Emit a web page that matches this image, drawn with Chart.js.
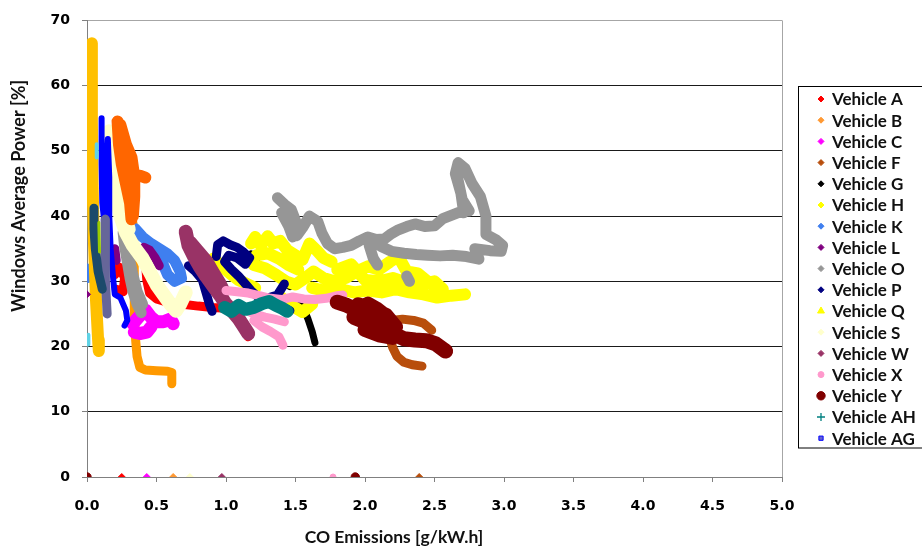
<!DOCTYPE html>
<html>
<head>
<meta charset="utf-8">
<script src="https://cdn.jsdelivr.net/npm/chart.js@4/dist/chart.umd.min.js"></script>
<style>
html,body{margin:0;padding:0;background:#fff;}
canvas{display:block;}
</style>
</head>
<body>
<canvas id="chart" width="922" height="552"></canvas>
<script>
// Windowed average power [%] against CO emissions [g/kW.h].
// Each trail is a list of [x, y] vertices; null starts a new stroke.
// Single readings drawn as plain markers are kept in separate lists.

const xTicks = [0, 0.5, 1, 1.5, 2, 2.5, 3, 3.5, 4, 4.5, 5];
const yTicks = [0, 10, 20, 30, 40, 50, 60, 70];

const vehA = [
  [0.20,31.0],[0.23,32.2],[0.27,30.6],[0.26,28.4],[0.21,28.8], null,
  [0.42,33.0],[0.43,30.2],[0.45,28.2],[0.50,27.3],[0.56,26.9],[0.63,26.6],[0.72,26.4],[0.80,26.2],[0.90,26.0],[0.97,25.9],[1.01,26.3], null,
  [1.15,22.3],[1.16,21.5]
];
const marksA = [[0.25,0]];

const vehBUpper = [
  [0.22,54.5],[0.23,51.0],[0.25,48.0],[0.28,45.0],[0.31,42.0],[0.32,39.5], null,
  [0.24,54.0],[0.28,51.0],[0.32,49.0],[0.34,46.0],[0.34,43.0],[0.33,40.0], null,
  [0.23,53.0],[0.26,50.0],[0.29,47.5],[0.31,45.0], null,
  [0.38,46.2],[0.42,45.9]
];
const vehBLower = [
  [0.33,39.0],[0.34,34.0],[0.34,29.0],[0.34,25.0],[0.35,21.0],[0.36,18.5],[0.38,16.8],[0.42,16.4],[0.50,16.3],[0.58,16.2],[0.61,16.0],[0.61,14.3]
];
const marksB = [[0.62,0]];

const vehC = [
  [0.33,23.5],[0.37,24.5],[0.42,25.6],[0.46,24.5],[0.50,23.8],[0.55,23.8],[0.60,24.2],[0.62,23.5], null,
  [0.34,22.2],[0.38,22.0],[0.43,22.2],[0.46,23.0]
];
const marksC = [[0.43,0]];

const vehF = [
  [2.01,22.8],[2.06,22.4],[2.12,23.3],[2.19,24.0],[2.27,24.2],[2.35,24.0],[2.42,23.6],[2.48,22.5], null,
  [2.18,21.2],[2.20,19.8],[2.23,18.5],[2.28,17.6],[2.34,17.2],[2.41,17.0]
];
const marksF = [[2.39,0]];

const vehG = [
  [1.52,27.3],[1.56,25.8],[1.59,24.2],[1.62,22.3],[1.64,20.6], null,
  [1.18,34.2],[1.22,33.4], null,
  [1.42,29.8],[1.46,29.2]
];
const vehH = [
  [0.91,33.5],[0.97,32.3],[1.03,31.2],[1.09,30.2],[1.15,29.6],[1.21,29.0], null,
  [1.18,35.8],[1.21,36.8],[1.25,35.5],[1.30,36.9],[1.34,35.8],[1.39,36.2],[1.44,34.8],[1.50,34.0],[1.55,33.3],[1.60,35.8],[1.65,34.8],[1.70,33.6],[1.76,33.0], null,
  [1.22,34.0],[1.30,34.3],[1.38,33.5],[1.45,32.5],[1.52,31.8], null,
  [1.20,32.5],[1.28,32.0],[1.36,31.0],[1.43,30.0],[1.50,29.5],[1.57,30.5],[1.63,31.5],[1.70,30.5],[1.78,30.0],[1.86,30.5],[1.94,31.5],[2.02,32.3],[2.10,31.8],[2.18,33.0],[2.24,33.8],[2.30,31.5],[2.38,31.2],[2.45,30.0],[2.52,29.0], null,
  [1.80,31.8],[1.90,32.6],[2.00,30.2],[2.10,30.0],[2.20,30.5],[2.30,29.8],[2.40,29.5],[2.50,30.0],[2.56,28.8], null,
  [1.40,27.5],[1.47,26.3],[1.55,25.3],[1.62,26.5], null,
  [1.62,29.0],[1.72,28.5],[1.82,28.8],[1.92,28.3],[2.02,28.6],[2.12,28.3],[2.22,28.8],[2.32,28.3],[2.42,28.0],[2.52,27.5],[2.62,27.8],[2.72,28.0]
];
const vehK = [
  [0.345,38.1],[0.40,36.8],[0.46,35.8],[0.52,35.0],[0.58,34.2],[0.63,33.2],[0.67,31.5],[0.68,30.5],[0.63,30.0],[0.58,31.0],[0.55,32.5],[0.52,34.0], null,
  [0.00,31.9],[0.01,30.6]
];
const vehL = [
  [0.37,34.3],[0.41,35.2],[0.45,34.8],[0.49,33.6],[0.52,32.4], null,
  [0.20,35.0],[0.21,33.2]
];
const marksL = [[0.00,28.0]];

const vehO = [
  [0.26,37.5],[0.27,35.5],[0.29,33.0],[0.31,30.5],[0.33,28.5],[0.36,26.5],[0.39,25.2], null,
  [0.28,36.5],[0.30,34.0],[0.33,31.0],[0.36,28.5],[0.40,26.5], null,
  [1.37,42.8],[1.42,41.8],[1.47,41.0],[1.50,39.3],[1.51,37.0],[1.55,38.2],[1.60,40.0],[1.66,39.2],[1.69,37.4],[1.73,35.8],[1.78,35.0],[1.84,35.2],[1.90,35.5],[1.96,36.2],[2.02,36.8],[2.08,36.4],[2.14,36.5],[2.19,37.3],[2.24,37.9],[2.30,38.4],[2.36,38.8],[2.43,38.4],[2.50,38.5],[2.56,39.6],[2.62,40.1],[2.68,40.6],[2.71,40.5],[2.69,43.5],[2.65,46.5],[2.67,48.2],[2.72,47.3],[2.77,45.0],[2.83,43.0],[2.87,40.0],[2.87,37.2],[2.94,36.4],[2.99,35.5],[2.98,34.6],[2.90,34.7],[2.79,35.0],[2.82,33.4],[2.73,33.8],[2.63,34.0],[2.54,33.9],[2.45,34.0],[2.37,34.1],[2.28,34.3],[2.19,34.6],[2.12,35.3],[2.05,36.2], null,
  [1.40,40.5],[1.45,38.5],[1.48,36.8], null,
  [2.03,35.5],[2.06,33.5],[2.09,32.5], null,
  [2.30,30.8],[2.32,30.0], null,
  [2.66,46.5],[2.70,42.5],[2.75,40.8]
];
const vehP = [
  [0.73,32.4],[0.78,31.5],[0.83,30.2],[0.86,28.0],[0.88,26.5],[0.90,25.4], null,
  [0.93,33.8],[0.94,35.6],[0.98,36.2],[1.03,35.6],[1.08,35.2],[1.12,34.6],[1.17,33.6],[1.14,32.6],[1.08,33.6],[1.02,34.0],[0.99,33.0],[1.04,31.8],[1.09,30.8],[1.14,29.6],[1.18,28.6],[1.24,27.4],[1.31,27.5],[1.37,27.9],[1.42,29.6], null,
  [1.40,26.0],[1.46,25.5]
];
const vehQ = [
  [0.035,66.5],[0.035,55.0],[0.04,45.0],[0.05,36.0],[0.065,27.0],[0.08,21.0],[0.085,19.3]
];
const vehS = [
  [0.16,53.0],[0.18,48.0],[0.20,44.0],[0.24,40.0],[0.28,37.5],[0.33,35.5],[0.40,33.5],[0.45,31.5],[0.50,29.5],[0.55,28.0],[0.60,26.5],[0.64,25.5],[0.67,26.5],[0.71,28.3], null,
  [0.19,47.0],[0.22,43.0],[0.27,40.0],[0.30,38.0]
];
const marksS = [[0.74,0]];

const vehW = [
  [0.71,37.6],[0.73,35.5],[0.77,33.8],[0.81,32.3],[0.86,30.7],[0.91,29.2],[0.96,27.8],[0.99,26.8], null,
  [0.74,36.0],[0.80,34.5],[0.86,33.0],[0.90,31.5],[0.95,29.8],[0.98,28.5], null,
  [1.00,26.5],[1.05,25.3],[1.09,24.3],[1.13,23.0],[1.16,22.0]
];
const marksW = [[0.97,0]];

const vehX = [
  [1.00,28.6],[1.08,28.4],[1.16,28.2],[1.24,27.8],[1.32,27.4],[1.40,27.2],[1.48,27.6],[1.56,27.3],[1.64,27.2],[1.72,27.4],[1.80,27.8],[1.84,27.9], null,
  [1.13,25.8],[1.20,25.0],[1.28,24.5],[1.35,24.2],[1.42,23.8], null,
  [1.20,24.0],[1.26,23.0],[1.32,22.3],[1.38,21.5],[1.41,20.2]
];
const marksX = [[1.77,0]];

const vehY = [
  [1.80,26.8],[1.86,26.4],[1.92,25.8],[1.98,25.2],[2.04,24.6],[2.10,24.0],[2.16,23.0],[2.22,21.8],[2.28,21.2],[2.36,21.0],[2.44,20.9],[2.51,20.4],[2.58,19.3], null,
  [1.92,24.5],[2.00,23.8],[2.08,22.8],[2.14,24.8],[2.08,25.8],[2.02,26.5], null,
  [1.95,26.4],[2.05,25.8],[2.15,24.8],[2.22,23.0], null,
  [2.00,22.6],[2.10,21.8],[2.20,21.4]
];
const marksY = [[0.00,0],[1.93,0]];

const vehAH = [
  [0.99,26.0],[1.04,25.4],[1.09,26.3],[1.14,25.7],[1.20,26.0],[1.26,26.6],[1.31,26.9],[1.36,26.3],[1.41,25.8],[1.44,25.4]
];
const vehAG = [
  [0.105,55.0],[0.105,48.0],[0.11,42.0],[0.12,40.0],[0.15,51.8],[0.16,46.0],[0.16,40.0],[0.17,35.0],[0.19,30.0],[0.20,28.0],[0.24,27.5],[0.28,25.5],[0.29,24.0],[0.27,23.2]
];
// further runs that have no entry in the key
const otherSlate = [[0.13,39.5],[0.13,35.0],[0.135,30.0],[0.14,27.0],[0.145,25.0]];
const otherNavyTeal = [[0.05,41.2],[0.05,38.0],[0.06,35.0],[0.08,31.5],[0.11,28.8]];
const otherLime = [[0.085,39.0],[0.09,34.5]];
const otherCyan = [[0.07,51.0],[0.07,49.0], null, [0.01,21.8],[0.01,20.3]];

const series = [
  { label: 'Vehicle A',  data: vehA,      marks: marksA, line: '#FF0000', mark: '#FF0000', style: 'rectRot', r: 3.5, w: 9 },
  { label: 'Vehicle B',  data: vehBLower, marks: marksB, line: '#FF9900', mark: '#FF9933', style: 'rectRot', r: 3.5, w: 9 },
  { label: 'Vehicle C',  data: vehC,      marks: marksC, line: '#FF00FF', mark: '#FF00FF', style: 'rectRot', r: 3.5, w: 13 },
  { label: 'Vehicle F',  data: vehF,      marks: marksF, line: '#B84E0C', mark: '#B84E0C', style: 'rectRot', r: 3.5, w: 9 },
  { label: 'Vehicle G',  data: vehG,      line: '#000000', mark: '#000000', style: 'rectRot', r: 3.5, w: 7 },
  { label: 'Vehicle H',  data: vehH,      line: '#FFFF00', mark: '#FFFF00', style: 'rectRot', r: 3.5, w: 12 },
  { label: 'Vehicle K',  data: vehK,      line: '#3F7FEF', mark: '#3F7FEF', style: 'rectRot', r: 3.5, w: 11 },
  { label: 'Vehicle L',  data: vehL,      marks: marksL, line: '#800080', mark: '#800080', style: 'rectRot', r: 3.5, w: 9 },
  { label: 'Vehicle O',  data: vehO,      line: '#969696', mark: '#969696', style: 'rectRot', r: 3.5, w: 11 },
  { label: 'Vehicle P',  data: vehP,      line: '#000080', mark: '#000080', style: 'rectRot', r: 3.5, w: 9 },
  { label: 'Vehicle Q',  data: vehQ,      line: '#FFC000', mark: '#FFFF00', style: 'triangle', r: 4, w: 12 },
  { label: 'Vehicle S',  data: vehS,      marks: marksS, line: '#FFFFCC', mark: '#FFFFCC', style: 'rectRot', r: 3.5, w: 14 },
  { label: 'Vehicle W',  data: vehW,      marks: marksW, line: '#993366', mark: '#993366', style: 'rectRot', r: 3.5, w: 14 },
  { label: 'Vehicle X',  data: vehX,      marks: marksX, line: '#FF99CC', mark: '#FF99CC', style: 'circle', r: 3, w: 9 },
  { label: 'Vehicle Y',  data: vehY,      marks: marksY, line: '#800000', mark: '#800000', style: 'circle', r: 4.2, w: 15 },
  { label: 'Vehicle AH', data: vehAH,     line: '#008080', mark: '#008080', style: 'cross', r: 4, w: 13 },
  { label: 'Vehicle AG', data: vehAG,     line: '#0000FF', mark: '#6666CC', style: 'rect', r: 3, w: 6 },
  { label: 'Vehicle B',  data: vehBUpper, line: '#FF6600', mark: '#FF6600', style: 'rectRot', r: 3.5, w: 12, hideKey: true },
  { label: 'Other 1',    data: otherSlate,    line: '#666699', mark: '#666699', style: 'rectRot', r: 3.5, w: 9, hideKey: true },
  { label: 'Other 2',    data: otherNavyTeal, line: '#1B4A6B', mark: '#1B4A6B', style: 'rectRot', r: 3.5, w: 9, hideKey: true },
  { label: 'Other 3',    data: otherLime,     line: '#99CC00', mark: '#99CC00', style: 'rectRot', r: 3.5, w: 3, hideKey: true },
  { label: 'Other 4',    data: otherCyan,     line: '#5FD3E6', mark: '#5FD3E6', style: 'rectRot', r: 3.5, w: 4, hideKey: true }
];

function toPoints(arr) {
  return arr.map(p => p ? { x: p[0], y: p[1] } : { x: null, y: null });
}

// trails: thick lines through the readings, later runs painted over earlier ones
const trailSets = series.map((s, i) => ({
  label: s.label,
  data: toPoints(s.data),
  showLine: true,
  spanGaps: false,
  borderColor: s.line,
  backgroundColor: s.mark,
  borderWidth: s.w,
  borderCapStyle: 'round',
  borderJoinStyle: 'round',
  tension: 0,
  pointRadius: 0,
  pointHoverRadius: 0,
  order: 100 - i
}));

// single readings drawn as markers on top
const markSets = series.filter(s => s.marks).map(s => ({
  label: s.label,
  data: toPoints(s.marks),
  showLine: false,
  pointStyle: s.style,
  pointRadius: s.r,
  pointHoverRadius: 0,
  pointBackgroundColor: s.mark,
  pointBorderColor: s.mark,
  pointBorderWidth: 1,
  order: 0
}));

const GRID_DARK = '#1a1a1a';
const FRAME = '#A6A6A6';
const AXIS = '#808080';

const keyAndTitles = {
  id: 'keyAndTitles',
  afterDraw(chart) {
    const ctx = chart.ctx;
    const area = chart.chartArea;
    ctx.save();

    // axis titles
    ctx.fillStyle = '#111';
    ctx.textAlign = 'center';
    ctx.textBaseline = 'middle';
    ctx.font = 'bold 17.5px Lato';
    ctx.fillText('CO Emissions [g/kW.h]', 394, 537);
    ctx.save();
    ctx.translate(19, 196);
    ctx.rotate(-Math.PI / 2);
    ctx.font = 'bold 18px Lato';
    ctx.fillText('Windows Average Power [%]', 0, 0);
    ctx.restore();

    // key
    const boxL = area.right + 16;
    ctx.strokeStyle = '#000';
    ctx.lineWidth = 1;
    ctx.strokeRect(Math.round(boxL) + 0.5, 86.5, 160, 361.5);
    const listed = series.filter(s => !s.hideKey);
    ctx.font = 'bold 17px Lato';
    ctx.textAlign = 'left';
    ctx.textBaseline = 'middle';
    listed.forEach((s, i) => {
      const y = 99 + i * 21.2;
      ctx.fillStyle = s.mark;
      ctx.strokeStyle = s.style === 'rect' ? '#0000FF' : s.mark;
      ctx.lineWidth = s.style === 'cross' ? 1.3 : 1;
      Chart.helpers.drawPoint(ctx, {
        pointStyle: s.style,
        rotation: 0,
        radius: s.style === 'rectRot' ? 3 : s.r,
        borderWidth: ctx.lineWidth
      }, boxL + 23, y);
      ctx.fillStyle = '#111';
      ctx.fillText(s.label, boxL + 34, y + 1);
    });
    ctx.restore();
  }
};

new Chart(document.getElementById('chart'), {
  type: 'scatter',
  data: { datasets: trailSets.concat(markSets) },
  options: {
    responsive: false,
    animation: false,
    events: [],
    layout: { padding: { left: 0, top: 14, right: 140, bottom: 0 } },
    plugins: { legend: { display: false }, tooltip: { enabled: false } },
    scales: {
      x: {
        type: 'linear',
        min: xTicks[0],
        max: xTicks[xTicks.length - 1],
        afterBuildTicks: scale => { scale.ticks = xTicks.map(v => ({ value: v })); },
        afterFit: scale => { scale.height = 75; },
        border: { display: true, color: AXIS, width: 1 },
        grid: {
          drawOnChartArea: true,
          color: c => (c.tick && c.tick.value === 5) ? FRAME : 'rgba(0,0,0,0)',
          tickColor: AXIS,
          tickLength: 5,
          lineWidth: 1
        },
        ticks: {
          color: '#000',
          padding: 16,
          maxRotation: 0,
          font: { family: 'DejaVu Sans', weight: 'bold', size: 14 },
          callback: v => Number(v).toFixed(1)
        }
      },
      y: {
        type: 'linear',
        min: yTicks[0],
        max: yTicks[yTicks.length - 1],
        afterBuildTicks: scale => { scale.ticks = yTicks.map(v => ({ value: v })); },
        afterFit: scale => { scale.width = 87; },
        border: { display: true, color: AXIS, width: 1 },
        grid: {
          color: c => {
            if (!c.tick) return GRID_DARK;
            if (c.tick.value === 70) return FRAME;
            if (c.tick.value === 0) return AXIS;
            return GRID_DARK;
          },
          tickColor: AXIS,
          tickLength: 5,
          lineWidth: 1
        },
        ticks: {
          color: '#000',
          padding: 12,
          font: { family: 'DejaVu Sans', weight: 'bold', size: 14 },
          callback: v => String(v)
        }
      }
    }
  },
  plugins: [keyAndTitles]
});
</script>
</body>
</html>
